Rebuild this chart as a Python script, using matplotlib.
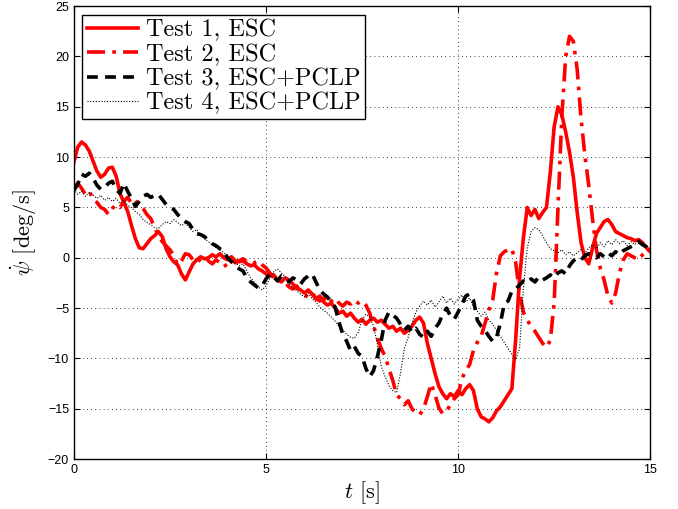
import numpy as np
import matplotlib
matplotlib.use('Agg')
import matplotlib.pyplot as plt

# time base (s), one sample every 0.1 s
t = np.round(np.arange(0, 15.01, 0.1), 1)

# yaw rate [deg/s]
test1 = [9.5, 11.0, 11.5, 11.2, 10.6, 9.6, 8.6, 8.0, 8.3, 8.9,
         9.0, 8.1, 6.4, 5.5, 4.6, 3.2, 1.9, 1.0, 0.9, 1.4,
         1.9, 2.2, 2.6, 2.1, 0.9, 0.1, -0.4, -0.7, -1.6, -2.2,
         -1.4, -0.6, -0.2, 0.1, -0.1, 0.0, 0.3, 0.1, 0.4, 0.0,
         -0.2, 0.1, -0.3, -0.4, -0.3, -0.6, -0.8, -0.7, -1.1, -1.3,
         -1.6, -1.8, -1.7, -2.2, -2.4, -2.0, -2.2, -2.6, -3.0, -3.2,
         -3.5, -3.2, -3.6, -4.1, -3.8, -4.4, -4.7, -4.5, -5.0, -5.5,
         -5.3, -5.8, -5.5, -6.0, -6.4, -6.1, -6.6, -6.2, -6.0, -6.4,
         -6.2, -6.6, -7.0, -6.8, -7.3, -7.0, -7.5, -7.2, -6.8, -6.2,
         -5.9, -6.5, -8.5, -10.0, -11.5, -12.8, -13.5, -14.0, -13.5, -13.8,
         -13.2, -13.6, -13.0, -12.6, -13.2, -15.0, -15.8, -16.0, -16.3, -15.9,
         -15.2, -14.8, -14.2, -13.6, -13.0, -8.0, -2.0, 2.0, 5.0, 4.2,
         4.8, 3.9, 4.5, 5.0, 8.5, 13.0, 15.0, 14.2, 12.5, 10.5,
         8.0, 4.5, 1.5, 0.0, -0.6, 1.0, 2.4, 3.0, 3.6, 3.8,
         3.3, 2.6, 2.4, 2.2, 2.0, 1.9, 1.7, 1.8, 1.5, 1.0,
         0.6]

test2 = [7.0, 7.4, 6.9, 6.3, 6.6, 5.8, 5.5, 5.0, 4.8, 4.3,
         4.9, 5.3, 5.0, 5.6, 6.0, 5.4, 5.7, 5.2, 4.9, 4.3,
         3.9, 3.0, 2.2, 1.6, 1.2, 0.8, 0.2, -0.7, -0.3, 0.4,
         0.3, -0.2, -0.5, -0.1, 0.2, -0.3, -0.6, -0.2, -0.5, -0.9,
         -0.6, -0.2, -0.5, -0.3, -0.1, -0.4, -0.2, -0.5, -0.3, -0.7,
         -1.0, -1.5, -2.0, -2.4, -2.1, -2.5, -2.9, -3.1, -2.8, -3.4,
         -3.7, -3.9, -3.5, -4.0, -4.3, -4.0, -4.6, -4.3, -4.0, -4.5,
         -4.8, -4.4, -4.6, -4.2, -4.5, -4.3, -4.7, -5.5, -6.8, -8.0,
         -9.0, -9.8, -11.0, -12.2, -13.6, -14.0, -14.6, -14.2, -15.0, -15.4,
         -15.6, -15.0, -13.8, -12.5, -13.6, -14.9, -15.5, -15.2, -14.6, -14.0,
         -13.6, -12.0, -11.2, -10.6, -9.2, -8.4, -7.8, -6.5, -5.2, -4.2,
         -1.5, 0.2, 0.6, 0.8, 0.9, -0.5, -3.5, -5.4, -6.2, -6.8,
         -7.3, -7.9, -8.5, -8.9, -8.2, -4.5, 5.0, 14.0, 20.0, 22.0,
         21.5, 18.7, 13.8, 10.2, 7.2, 3.8, 0.8, -1.0, -2.2, -3.8,
         -4.5, -3.5, -1.5, -0.2, 0.4, 0.2, 0.0, -0.2, 0.3, 0.7,
         0.8]

test3 = [6.7, 7.3, 8.3, 8.1, 8.4, 7.9, 7.2, 6.8, 7.0, 7.4,
         7.6, 6.8, 6.4, 7.4, 6.6, 5.9, 5.1, 5.6, 6.1, 6.3,
         6.0, 6.2, 6.3, 5.8, 5.3, 5.0, 4.8, 4.3, 3.9, 3.6,
         3.4, 2.8, 2.4, 2.3, 2.1, 1.7, 1.4, 1.2, 0.9, 0.6,
         0.0, -0.4, -0.8, -1.1, -1.3, -2.0, -2.4, -2.7, -3.0, -2.8,
         -2.1, -1.6, -1.9, -2.3, -1.8, -2.0, -2.4, -2.0, -2.2, -2.6,
         -2.1, -1.8, -1.6, -2.4, -3.2, -3.6, -3.9, -4.4, -4.9, -6.4,
         -7.6, -8.3, -9.2, -8.8, -9.5, -9.8, -11.0, -11.8, -11.2, -9.8,
         -8.2, -6.2, -5.4, -5.7, -6.0, -6.6, -7.2, -6.8, -7.4, -7.0,
         -7.6, -7.9, -7.3, -7.8, -7.0, -6.5, -5.6, -5.0, -5.8, -6.1,
         -5.4, -4.6, -3.8, -3.6, -4.2, -6.2, -6.8, -7.2, -7.8, -8.3,
         -7.9, -6.5, -4.6, -4.3, -3.3, -3.1, -2.7, -2.3, -2.5, -2.1,
         -2.4, -1.9, -2.2, -2.0, -1.7, -2.0, -1.5, -1.3, -1.6, -0.8,
         -0.3, 0.0, -0.2, 0.2, 0.4, 0.3, 0.0, 0.4, 0.1, 0.5,
         0.2, 0.6, 0.3, 0.7, 0.9, 1.1, 1.3, 1.6, 1.3, 1.1,
         0.8]

test4 = [6.8, 6.3, 6.6, 6.1, 6.5, 6.2, 5.9, 6.2, 5.7, 6.0,
         5.6, 5.9, 5.4, 5.7, 5.2, 5.0, 4.6, 4.3, 3.8, 3.5,
         3.3, 3.0, 2.9, 3.3, 3.6, 3.4, 3.8, 3.5, 3.2, 3.4,
         3.0, 2.6, 2.8, 2.2, 1.9, 1.6, 1.3, 1.0, 0.8, 0.5,
         0.2, -0.2, -0.5, -0.8, -0.6, -1.3, -2.0, -2.4, -2.9, -3.2,
         -2.8, -2.0, -1.4, -1.1, -1.5, -1.9, -2.6, -2.9, -3.3, -3.6,
         -3.9, -3.5, -4.1, -4.4, -4.9, -5.2, -5.5, -5.9, -6.3, -6.8,
         -7.2, -7.6, -7.9, -8.0, -7.4, -6.2, -5.6, -5.9, -6.8, -8.6,
         -10.8, -11.8, -12.7, -13.2, -13.4, -11.5, -9.0, -7.9, -6.5, -5.4,
         -4.8, -4.3, -4.7, -4.2, -4.9, -4.4, -3.8, -4.5, -4.0, -4.6,
         -4.1, -3.7, -4.4, -4.0, -4.9, -5.3, -5.8, -5.4, -6.2, -6.6,
         -7.2, -7.8, -8.4, -9.0, -9.6, -10.1, -9.0, -3.0, 1.0, 2.6,
         3.0, 2.8, 2.2, 1.5, 0.9, 0.7, 0.5, 0.8, 0.3, 0.6,
         0.2, 0.5, 0.8, 0.4, 1.0, 1.3, 0.9, 1.5, 1.1, 1.7,
         1.3, 1.8, 1.4, 1.7, 1.2, 1.6, 1.3, 1.8, 1.5, 1.2,
         1.0]

labels = ['Test 1, ESC', 'Test 2, ESC', 'Test 3, ESC+PCLP', 'Test 4, ESC+PCLP']

plt.rcParams['mathtext.fontset'] = 'cm'
plt.rcParams['font.family'] = ['Liberation Sans', 'DejaVu Sans']

fig = plt.figure(figsize=(6.78, 5.09), dpi=100)
ax = fig.add_axes([0.109, 0.098, 0.85, 0.89])

ax.plot(t, test1, color='red', lw=2.6, ls='-', label=labels[0])
ax.plot(t, test2, color='red', lw=2.6, ls=(0, (5, 2, 1, 2)), label=labels[1])
ax.plot(t, test3, color='black', lw=2.6, ls=(0, (3, 2)), label=labels[2])
ax.plot(t, test4, color='black', lw=0.8, ls=(0, (1, 1.5)), label=labels[3])

ax.set_xlim(0, 15)
ax.set_ylim(-20, 25)
ax.set_xticks([0, 5, 10, 15])
ax.set_yticks(range(-20, 26, 5))
ax.tick_params(direction='in', top=True, right=True, labelsize=9, length=4)
ax.grid(True, color='k', ls=(0, (1, 4)), lw=0.6)
for s in ax.spines.values():
    s.set_linewidth(1.0)

ax.set_xlabel(r'$t$ [s]', fontfamily='cmr10', fontsize=16, labelpad=2)
ax.set_ylabel(r'$\dot{\psi}$ [deg/s]', fontfamily='cmr10', fontsize=16, labelpad=6)

leg = ax.legend(loc='upper left', prop={'family': 'cmr10', 'size': 17.5},
                fancybox=False, framealpha=1, edgecolor='k', handlelength=2.1,
                handletextpad=0.3, labelspacing=0.08, borderpad=0.2,
                borderaxespad=0.35)
leg.get_frame().set_linewidth(1.0)

fig.savefig('out.png', dpi=100)
